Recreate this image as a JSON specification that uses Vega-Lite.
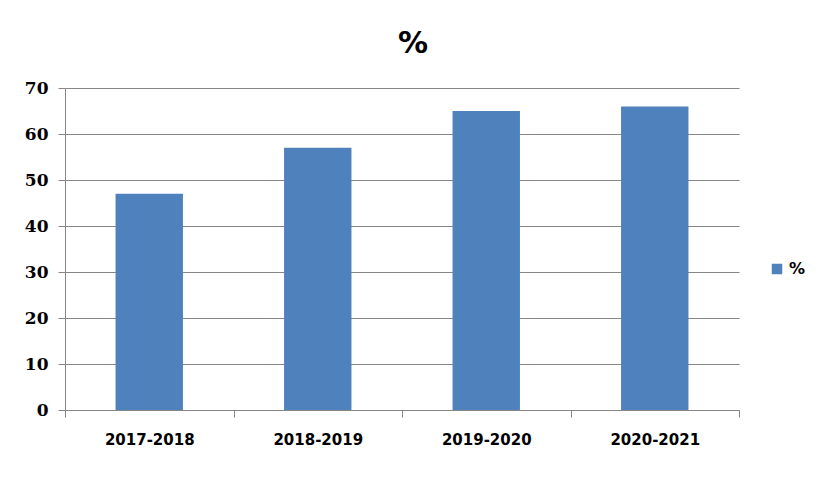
{
  "$schema": "https://vega.github.io/schema/vega-lite/v6.json",
  "width": 674,
  "height": 322,
  "autosize": {"type": "none"},
  "padding": {"left": 65, "top": 88, "right": 86, "bottom": 69},
  "background": "white",
  "title": {"text": "%", "fontSize": 30, "font": "DejaVu Sans", "fontWeight": "bold", "color": "black", "offset": 20, "dx": 11, "anchor": "middle"},
  "data": {"values": [
    {"year": "2017-2018", "value": 47, "series": "%"},
    {"year": "2018-2019", "value": 57, "series": "%"},
    {"year": "2019-2020", "value": 65, "series": "%"},
    {"year": "2020-2021", "value": 66, "series": "%"}
  ]},
  "mark": {"type": "bar", "width": {"band": 0.4}},
  "encoding": {
    "x": {"field": "year", "type": "nominal", "sort": null,
      "scale": {"paddingInner": 0, "paddingOuter": 0},
      "axis": {"title": null, "labelAngle": 0, "grid": false, "tickBand": "extent", "domainColor": "#868686", "tickColor": "#868686", "tickSize": 7,
        "labelFont": "DejaVu Sans", "labelFontWeight": "bold", "labelFontSize": 15, "labelColor": "black", "labelPadding": 15}},
    "y": {"field": "value", "type": "quantitative",
      "scale": {"domain": [0, 70]},
      "axis": {"title": null, "values": [0, 10, 20, 30, 40, 50, 60, 70], "gridColor": "#868686", "domainColor": "#868686", "tickColor": "#868686", "tickSize": 7,
        "labelFont": "DejaVu Serif", "labelFontWeight": "bold", "labelFontSize": 17, "labelColor": "black", "labelPadding": 10}},
    "color": {"field": "series", "type": "nominal", "scale": {"range": ["#4F81BD"]},
      "legend": {"title": null, "orient": "none", "legendX": 704, "legendY": 173, "symbolType": "square", "symbolSize": 110,
        "labelFont": "DejaVu Sans", "labelFontWeight": "bold", "labelFontSize": 16, "labelColor": "black"}}
  },
  "config": {"view": {"stroke": null}}
}
